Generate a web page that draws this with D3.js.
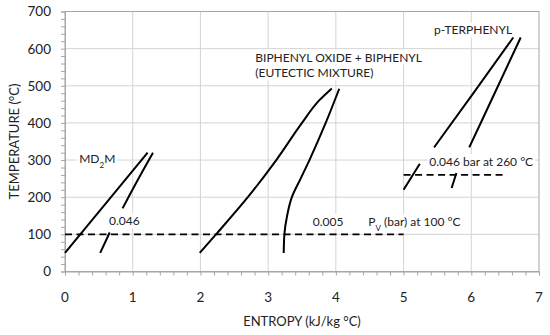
<!DOCTYPE html>
<html>
<head>
<meta charset="utf-8">
<script src="https://cdn.jsdelivr.net/npm/d3@7"></script>
<style>
  body { margin: 0; background: #fff; }
  svg { display: block; font-family: Lato, "Open Sans", sans-serif; }
</style>
</head>
<body>
<div id="chart"></div>
<script>
// T-s saturation curves (entropy kJ/kg°C, temperature °C); null = gap for label
const md2mLiquid = [[0, 50], [0.6, 183], [1.22, 320]];
const md2mVapor = [[0.52, 50], [0.66, 105], null, [0.85, 170], [1.07, 245], [1.30, 320]];
const bpLiquid = [[1.99, 50], [2.23, 100], [2.70, 200], [3.12, 300], [3.50, 400], [3.75, 460], [3.94, 493]];
const bpVapor = [[3.23, 50], [3.24, 100], [3.28, 150], [3.35, 200], [3.48, 250], [3.61, 300], [3.85, 400], [4.05, 492]];
const terLiquid = [[5.0, 220], [5.24, 290], null, [5.45, 334], [6.05, 485], [6.62, 630]];
const terVapor = [[5.71, 225], [5.78, 265], null, [5.97, 334], [6.35, 482], [6.73, 630]];

// vapour pressure reference lines
const pv100 = [[0, 100], [5, 100]];
const pv260 = [[5, 260], [6.5, 260]];

const xTicks = [0, 1, 2, 3, 4, 5, 6, 7];
const yTicks = [0, 100, 200, 300, 400, 500, 600, 700];

// label text, anchored at data coords (left edge, vertical middle)
const labels = [
  { x: 0.21, y: 305, parts: [["MD", 0], ["2", 1], ["M", 0]] },
  { x: 2.81, y: 577, parts: [["BIPHENYL OXIDE + BIPHENYL", 0]] },
  { x: 2.81, y: 534, parts: [["(EUTECTIC MIXTURE)", 0]] },
  { x: 5.45, y: 650, parts: [["p-TERPHENYL", 0]] },
  { x: 0.65, y: 136, parts: [["0.046", 0]] },
  { x: 3.66, y: 134, parts: [["0.005", 0]] },
  { x: 4.48, y: 134, parts: [["P", 0], ["V", 1], [" (bar) at 100 °C", 0]] },
  { x: 5.38, y: 296, parts: [["0.046 bar at 260 °C", 0]] }
];

const width = 550, height = 335,
  margin = { top: 11.5, right: 11, bottom: 63.5, left: 65 };

const svg = d3.select("#chart").append("svg")
  .attr("width", width).attr("height", height);

const x = d3.scaleLinear().domain([0, 7]).range([margin.left, width - margin.right]);
const y = d3.scaleLinear().domain([0, 700]).range([height - margin.bottom, margin.top]);

// grid
svg.append("g")
  .selectAll("line.vg").data(xTicks.slice(1, -1)).join("line")
  .attr("x1", d => x(d)).attr("x2", d => x(d))
  .attr("y1", y(0)).attr("y2", y(700))
  .attr("stroke", "#d4d4d4").attr("stroke-width", 1);
svg.append("g")
  .selectAll("line.hg").data(yTicks.slice(1, -1)).join("line")
  .attr("x1", x(0)).attr("x2", x(7))
  .attr("y1", d => y(d)).attr("y2", d => y(d))
  .attr("stroke", "#d4d4d4").attr("stroke-width", 1);

// frame
svg.append("rect")
  .attr("x", x(0)).attr("y", y(700))
  .attr("width", x(7) - x(0)).attr("height", y(0) - y(700))
  .attr("fill", "none").attr("stroke", "#a6a6a6").attr("stroke-width", 1);

// axes with minor ticks
const xAxis = svg.append("g")
  .attr("transform", `translate(0,${y(0)})`)
  .call(d3.axisBottom(x).tickValues(d3.range(0, 7.01, 0.2)).tickSize(4).tickFormat(""));
xAxis.select(".domain").attr("stroke", "#a6a6a6");
xAxis.selectAll(".tick line").attr("stroke", "#a6a6a6");
svg.append("g")
  .selectAll("text").data(xTicks).join("text")
  .attr("x", d => x(d)).attr("y", y(0) + 30)
  .attr("text-anchor", "middle")
  .attr("font-size", 13.5).attr("fill", "#222")
  .text(d => d);

const yAxis = svg.append("g")
  .attr("transform", `translate(${x(0)},0)`)
  .call(d3.axisLeft(y).tickValues(d3.range(0, 701, 20)).tickSize(4).tickFormat(""));
yAxis.select(".domain").attr("stroke", "#a6a6a6");
yAxis.selectAll(".tick line").attr("stroke", "#a6a6a6");
svg.append("g")
  .selectAll("text").data(yTicks).join("text")
  .attr("x", x(0) - 14).attr("y", d => y(d))
  .attr("dy", "0.36em")
  .attr("text-anchor", "end")
  .attr("font-size", 13.5).attr("fill", "#222")
  .text(d => d);

// axis titles
svg.append("text")
  .attr("x", (x(0) + x(7)) / 2).attr("y", 326)
  .attr("text-anchor", "middle")
  .attr("font-size", 13).attr("fill", "#222")
  .text("ENTROPY (kJ/kg °C)");
svg.append("text")
  .attr("transform", `translate(19,${(y(0) + y(700)) / 2}) rotate(-90)`)
  .attr("text-anchor", "middle")
  .attr("font-size", 13).attr("fill", "#222")
  .text("TEMPERATURE (°C)");

// dashed pressure lines
const line = d3.line()
  .defined(d => d !== null)
  .x(d => x(d[0]))
  .y(d => y(d[1]));

[pv100, pv260].forEach(d => {
  svg.append("path")
    .datum(d)
    .attr("fill", "none")
    .attr("stroke", "#000")
    .attr("stroke-width", 1.8)
    .attr("stroke-dasharray", "7,4.5")
    .attr("d", line);
});

// labels (white boxes hide grid behind)
labels.forEach(l => {
  const g = svg.append("g");
  const t = g.append("text")
    .attr("x", x(l.x)).attr("y", y(l.y))
    .attr("dy", "0.36em")
    .attr("font-size", 12).attr("fill", "#222");
  l.parts.forEach(p => {
    const s = t.append("tspan").text(p[0]);
    if (p[1]) s.attr("font-size", 8).attr("baseline-shift", "sub");
  });
  const bb = t.node().getBBox();
  g.insert("rect", "text")
    .attr("x", bb.x - 2).attr("y", bb.y)
    .attr("width", bb.width + 4).attr("height", bb.height)
    .attr("fill", "#fff");
});

// saturation curves
[md2mLiquid, md2mVapor, bpLiquid, bpVapor, terLiquid, terVapor].forEach(d => {
  svg.append("path")
    .datum(d)
    .attr("fill", "none")
    .attr("stroke", "#000")
    .attr("stroke-width", 2)
    .attr("stroke-linejoin", "round")
    .attr("d", line.curve(d3.curveMonotoneY));
});
</script>
</body>
</html>
